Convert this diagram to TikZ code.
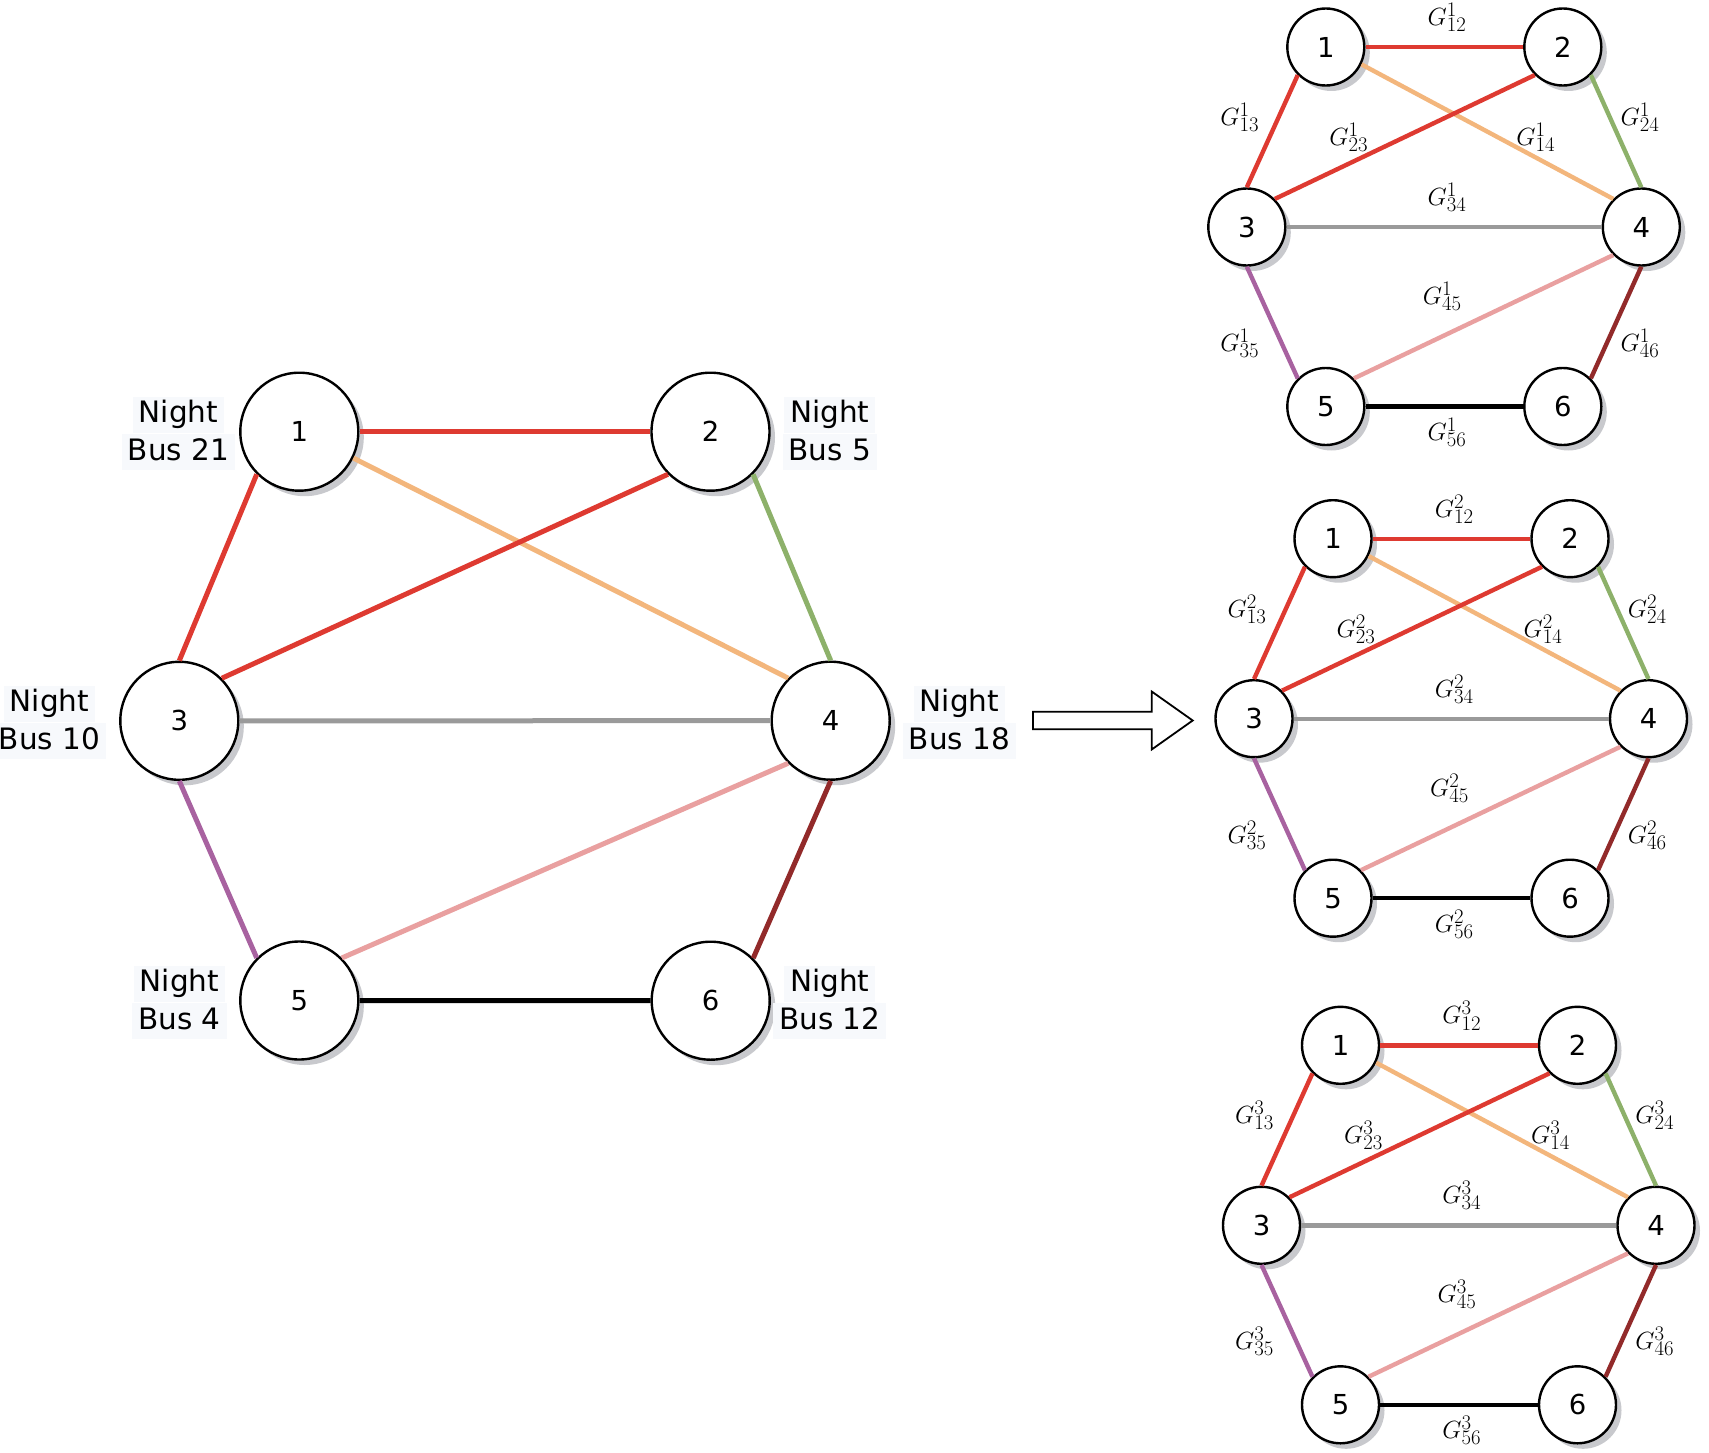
\documentclass[tikz,border=0pt]{standalone}
\usepackage[no-math]{fontspec}
\setmainfont{DejaVu Sans}
\usetikzlibrary{shadows}
\definecolor{cred}{RGB}{222,58,49}
\definecolor{corange}{RGB}{243,182,124}
\definecolor{cgreen}{RGB}{141,177,106}
\definecolor{cgray}{RGB}{154,154,154}
\definecolor{cpink}{RGB}{233,160,160}
\definecolor{cpurple}{RGB}{168,98,160}
\definecolor{cdarkred}{RGB}{146,42,42}
\definecolor{shadowgray}{RGB}{200,201,205}
\definecolor{labelbg}{RGB}{247,249,252}
\newcommand\lbx[1]{{\setlength\fboxsep{1pt}\colorbox{labelbg}{\rule[-9pt]{0pt}{34pt}\,#1\,}}}
\tikzset{
  vtx/.style={circle, draw=black, line width=2.4pt, fill=white, inner sep=0pt,
    font=\fontsize{27.5}{33}\selectfont,
    drop shadow={shadow xshift=5.5pt, shadow yshift=-5.5pt, fill=shadowgray, opacity=1}},
  bigv/.style={vtx, minimum size=118pt},
  smallv/.style={vtx, minimum size=77pt},
  conn/.style={line width=5pt},
  sconn/.style={line width=4.4pt},
  buslabel/.style={align=center, font=\fontsize{29.5}{37.6}\selectfont, inner sep=0pt},
  glabel/.style={font=\fontsize{28}{32}\selectfont, inner sep=0pt},
}
\newcommand\smallgraph[4]{%
\begin{scope}[shift={(#1,#2)}]
  \node[smallv] (#4-1) at (0,0) {1};
  \node[smallv] (#4-2) at (237,0) {2};
  \node[smallv] (#4-3) at (-79,180) {3};
  \node[smallv] (#4-4) at (315.5,180) {4};
  \node[smallv] (#4-5) at (0,359.5) {5};
  \node[smallv] (#4-6) at (237,359.5) {6};
  \draw[sconn, cred] (#4-1.east) -- (#4-2.west);
  \draw[sconn, cred] (#4-1.south west) -- (#4-3.north);
  \draw[sconn, corange] (#4-1.-26.57) -- (#4-4.north west);
  \draw[sconn, cred] (#4-2.south west) -- (#4-3.north east);
  \draw[sconn, cgreen] (#4-2.south east) -- (#4-4.north);
  \draw[sconn, cgray] (#4-3.east) -- (#4-4.west);
  \draw[sconn, cpurple] (#4-3.south) -- (#4-5.north west);
  \draw[sconn, cpink] (#4-4.south west) -- (#4-5.north east);
  \draw[sconn, cdarkred] (#4-4.south) -- (#4-6.north east);
  \draw[sconn, black] (#4-5.east) -- (#4-6.west);
  \node[glabel] (#4-l12) at (121.2,-29.5) {$G^{#3}_{12}$};
  \node[glabel] (#4-l13) at (-86.1,70.3) {$G^{#3}_{13}$};
  \node[glabel] (#4-l23) at (22.9,90.3) {$G^{#3}_{23}$};
  \node[glabel] (#4-l14) at (209.9,90.3) {$G^{#3}_{14}$};
  \node[glabel] (#4-l24) at (314.2,70.3) {$G^{#3}_{24}$};
  \node[glabel] (#4-l34) at (121.2,150.3) {$G^{#3}_{34}$};
  \node[glabel] (#4-l45) at (116.5,249.3) {$G^{#3}_{45}$};
  \node[glabel] (#4-l35) at (-86.1,296.3) {$G^{#3}_{35}$};
  \node[glabel] (#4-l46) at (314.2,296.3) {$G^{#3}_{46}$};
  \node[glabel] (#4-l56) at (121.2,385.3) {$G^{#3}_{56}$};
\end{scope}}
\begin{document}
\begin{tikzpicture}[x=1pt, y=-1pt]
  \useasboundingbox (0,0) rectangle (1709,1453);
  % big graph
  \node[bigv] (b1) at (299.3,431.7) {1};
  \node[bigv] (b2) at (710.5,431.7) {2};
  \node[bigv] (b3) at (179.3,720.8) {3};
  \node[bigv] (b4) at (830.7,720.7) {4};
  \node[bigv] (b5) at (299.3,1000.5) {5};
  \node[bigv] (b6) at (710.7,1000.7) {6};
  \draw[conn, cred] (b1.east) -- (b2.west);
  \draw[conn, cred] (b1.south west) -- (b3.north);
  \draw[conn, corange] (b1.-26.57) -- (b4.north west);
  \draw[conn, cred] (b2.south west) -- (b3.north east);
  \draw[conn, cgreen] (b2.south east) -- (b4.north);
  \draw[conn, cgray] (b3.east) -- (b4.west);
  \draw[conn, cpurple] (b3.south) -- (b5.north west);
  \draw[conn, cpink] (b4.south west) -- (b5.north east);
  \draw[conn, cdarkred] (b4.south) -- (b6.north east);
  \draw[conn, black] (b5.east) -- (b6.west);
  \node[buslabel] (nb21) at (178.5,433.4) {\lbx{Night}\\\lbx{Bus 21}};
  \node[buslabel] (nb5) at (829.7,433.4) {\lbx{Night}\\\lbx{Bus 5}};
  \node[buslabel] (nb10) at (49.5,722.5) {\lbx{Night}\\\lbx{Bus 10}};
  \node[buslabel] (nb18) at (959.5,722.5) {\lbx{Night}\\\lbx{Bus 18}};
  \node[buslabel] (nb4) at (179.5,1002.5) {\lbx{Night}\\\lbx{Bus 4}};
  \node[buslabel] (nb12) at (829.7,1002.5) {\lbx{Night}\\\lbx{Bus 12}};
  % arrow
  \draw[line width=1.8pt, fill=white]
    (1033,711.7) -- (1151.7,711.7) -- (1151.7,691.5) -- (1192.7,720.5)
    -- (1151.7,749.5) -- (1151.7,729.3) -- (1033,729.3) -- cycle;
  % small graphs
  \smallgraph{1325.8}{47}{1}{ga}
  \smallgraph{1333}{538.7}{2}{gb}
  \smallgraph{1340.5}{1045.3}{3}{gc}
\end{tikzpicture}
\end{document}
